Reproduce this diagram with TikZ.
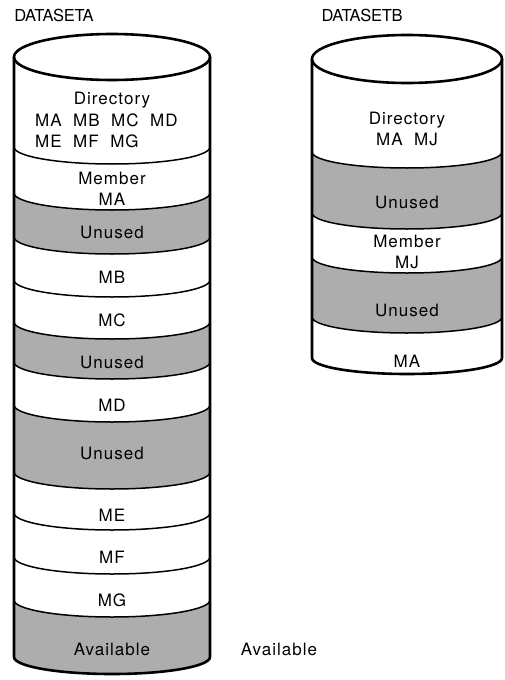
\documentclass[tikz,border=0pt]{standalone}
\usepackage{fontspec}
\setmainfont{TeX Gyre Heros}[LetterSpace=6]
\newfontfamily\titlefont{TeX Gyre Heros}[LetterSpace=-2]
\usetikzlibrary{positioning}

\tikzset{
  wall/.style={line width=2.6pt},
  seam/.style={line width=1.5pt},
  unused/.style={fill=black!32},
  lbl/.style={align=center, inner sep=0pt, font=\fontsize{17}{21}\selectfont},
  title/.style={inner sep=0pt, font=\titlefont\fontsize{16.5}{18}\selectfont},
}

\begin{document}
\begin{tikzpicture}[x=1pt,y=1pt]
  \useasboundingbox (0,0) rectangle (504,-680);

  % DATASETA
  \foreach \ya/\yb in {193/237, 322/362, 405/472, 600/657}
    \fill[unused] (14,-\ya) arc[start angle=180, end angle=360, x radius=98pt, y radius=17pt]
      -- (210,-\yb) arc[start angle=0, end angle=-180, x radius=98pt, y radius=17pt] -- cycle;
  \foreach \y in {147,193,237,280,322,362,405,472,513,557,600}
    \draw[seam] (14,-\y) arc[start angle=180, end angle=360, x radius=98pt, y radius=17pt];
  \draw[wall] (112,-57) ellipse[x radius=98pt, y radius=23pt];
  \draw[wall] (14,-57) -- (14,-657) arc[start angle=180, end angle=360, x radius=98pt, y radius=17pt] -- (210,-57);

  % DATASETB
  \foreach \ya/\yb in {152/213, 257/317}
    \fill[unused] (312,-\ya) arc[start angle=180, end angle=360, x radius=95pt, y radius=16pt]
      -- (502,-\yb) arc[start angle=0, end angle=-180, x radius=95pt, y radius=16pt] -- cycle;
  \foreach \y in {152,213,257,317}
    \draw[seam] (312,-\y) arc[start angle=180, end angle=360, x radius=95pt, y radius=16pt];
  \draw[wall] (407,-59) ellipse[x radius=95pt, y radius=24pt];
  \draw[wall] (312,-59) -- (312,-358) arc[start angle=180, end angle=360, x radius=95pt, y radius=16pt] -- (502,-59);

  % labels A
  \node[title] (dsa) at (54,-15) {DATASETA};
  \node[lbl] (dira) at (112,-100) {Directory};
  \node[lbl, align=left, anchor=west] (lista) at (35,-131) {MA~~MB~~MC~~MD\\ME~~MF~~MG};
  \node[lbl] (mema) at (112,-189) {Member\\MA};
  \node[lbl] (una) at (112,-232) {Unused};
  \node[lbl] (mb) at (112,-277) {MB};
  \node[lbl] (mc) at (112,-320) {MC};
  \node[lbl] (unb) at (112,-362) {Unused};
  \node[lbl] (md) at (112,-405) {MD};
  \node[lbl] (unc) at (112,-453) {Unused};
  \node[lbl] (me) at (112,-515) {ME};
  \node[lbl] (mf) at (112,-557) {MF};
  \node[lbl] (mg) at (112,-600) {MG};
  \node[lbl] (ava) at (112,-649) {Available};
  \node[lbl] (avb) at (279,-649) {Available};

  % labels B
  \node[title] (dsb) at (362,-15) {DATASETB};
  \node[lbl] (dirb) at (407,-129) {Directory\\MA~~MJ};
  \node[lbl] (und) at (407,-202) {Unused};
  \node[lbl] (memb) at (407,-252) {Member\\MJ};
  \node[lbl] (une) at (407,-310) {Unused};
  \node[lbl] (mab) at (407,-361) {MA};
\end{tikzpicture}
\end{document}
